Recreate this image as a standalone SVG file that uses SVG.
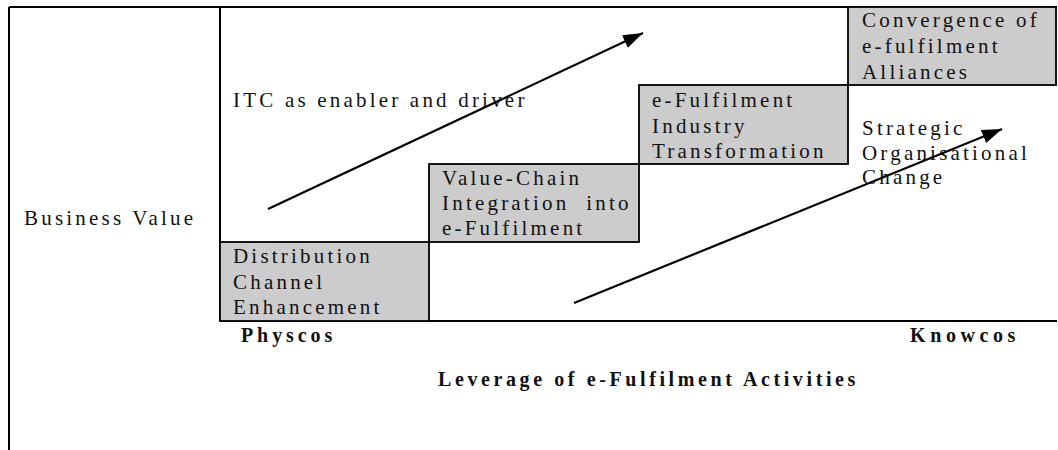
<svg xmlns="http://www.w3.org/2000/svg" width="1058" height="450" viewBox="0 0 1058 450">
<style>
.t{font-family:"Liberation Serif","Times New Roman",serif;font-size:21px;letter-spacing:3.2px;fill:#111}
.b{font-family:"Liberation Serif","Times New Roman",serif;font-size:20px;font-weight:bold;letter-spacing:3.6px;fill:#111}
.box{fill:#cccccc;stroke:#000;stroke-width:1.8}
.fr{stroke:#000;stroke-width:2;fill:none}
.ar{stroke:#000;stroke-width:2.2;fill:none;marker-end:url(#ah)}
</style>
<defs>
<marker id="ah" markerUnits="userSpaceOnUse" markerWidth="22" markerHeight="14" refX="20" refY="7" orient="auto">
<path d="M0,0 L20,7 L0,14 z" fill="#000"/>
</marker>
</defs>
<rect width="1058" height="450" fill="#fff"/>
<g id="frame">
<line class="fr" x1="9" y1="7" x2="1057" y2="7"/>
<line class="fr" x1="9" y1="7" x2="9" y2="450"/>
<line class="fr" x1="220" y1="7" x2="220" y2="321"/>
<line class="fr" x1="220" y1="321" x2="1057" y2="321"/>
</g>
<g id="box-distribution">
<rect class="box" x="220" y="242" width="209" height="79"/>
<text class="t" x="233" y="263">Distribution</text>
<text class="t" x="233" y="289">Channel</text>
<text class="t" x="233" y="314">Enhancement</text>
</g>
<g id="box-valuechain">
<rect class="box" x="429" y="164" width="210" height="78"/>
<text class="t" x="442" y="185">Value-Chain</text>
<text class="t" x="442" y="210" xml:space="preserve">Integration  into</text>
<text class="t" x="442" y="235">e-Fulfilment</text>
</g>
<g id="box-industry">
<rect class="box" x="639" y="85" width="209" height="79"/>
<text class="t" x="652" y="107">e-Fulfilment</text>
<text class="t" x="652" y="133">Industry</text>
<text class="t" x="652" y="158">Transformation</text>
</g>
<g id="box-convergence">
<rect class="box" x="848" y="7" width="208" height="78"/>
<text class="t" x="862" y="27">Convergence of</text>
<text class="t" x="862" y="53">e-fulfilment</text>
<text class="t" x="862" y="79">Alliances</text>
</g>
<g id="label-itc">
<text class="t" x="233" y="107">ITC as enabler and driver</text>
</g>
<g id="label-strategic">
<text class="t" x="862" y="135">Strategic</text>
<text class="t" x="862" y="160">Organisational</text>
<text class="t" x="862" y="184">Change</text>
</g>
<g id="label-business">
<text class="t" x="24" y="225">Business Value</text>
</g>
<g id="label-axis">
<text class="b" x="241" y="342" style="letter-spacing:3.9px">Physcos</text>
<text class="b" x="910" y="342" style="letter-spacing:4.6px">Knowcos</text>
<text class="b" x="438" y="386">Leverage of e-Fulfilment Activities</text>
</g>
<g id="connectors">
<line class="ar" x1="268" y1="209" x2="643" y2="33"/>
<line class="ar" x1="574" y1="303" x2="1002" y2="129"/>
</g>
</svg>
